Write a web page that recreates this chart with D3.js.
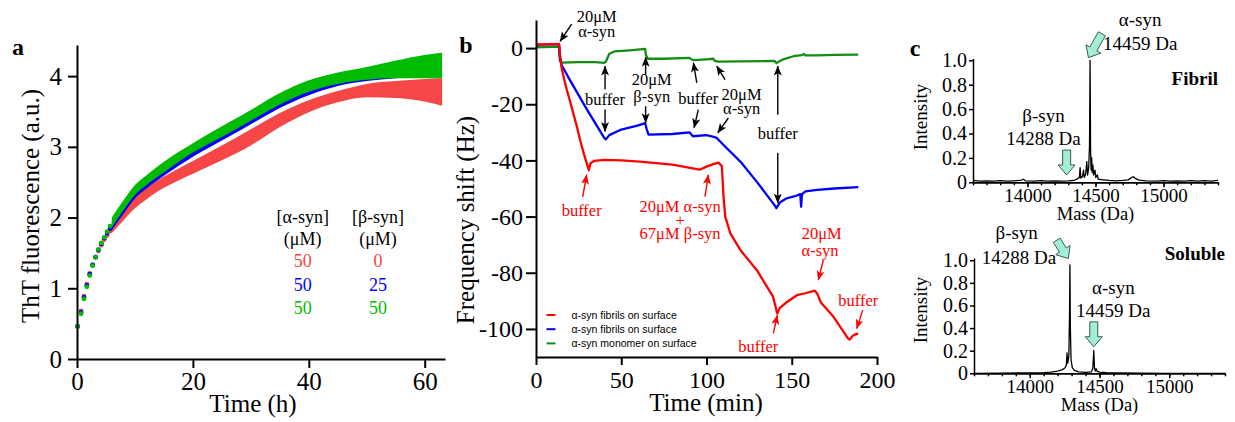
<!DOCTYPE html>
<html>
<head>
<meta charset="utf-8">
<script src="https://cdn.jsdelivr.net/npm/d3@7"></script>
<style>
  body { margin: 0; background: #fff; }
  svg { display: block; }
</style>
</head>
<body>
<div id="chart"></div>
<script>
// ---------- panel a : ThT fluorescence ----------
const earlyTime  = [0.1, 0.7, 1.2, 1.7, 2.2, 2.7, 3.2, 3.7, 4.2, 4.7, 5.2, 5.7];
const earlyRed   = [0.46, 0.68, 0.89, 1.06, 1.21, 1.33, 1.44, 1.53, 1.61, 1.69, 1.75, 1.81];
const earlyBlue  = [0.46, 0.66, 0.87, 1.04, 1.20, 1.33, 1.44, 1.54, 1.63, 1.71, 1.78, 1.84];
const earlyGreen = [0.46, 0.64, 0.85, 1.02, 1.18, 1.32, 1.44, 1.55, 1.64, 1.72, 1.80, 1.88];

const bandTime = [6, 8, 10, 12, 15, 20, 25, 30, 35, 40, 45, 50, 55, 60, 63];
const redLo   = [1.78, 1.96, 2.13, 2.26, 2.42, 2.62, 2.81, 3.02, 3.28, 3.49, 3.63, 3.70, 3.69, 3.64, 3.58];
const redHi   = [1.88, 2.08, 2.28, 2.42, 2.58, 2.80, 3.02, 3.25, 3.48, 3.66, 3.79, 3.89, 3.93, 3.96, 3.97];
const blueLo  = [1.82, 2.05, 2.27, 2.41, 2.59, 2.86, 3.09, 3.32, 3.55, 3.73, 3.86, 3.93, 3.97, 3.99, 4.00];
const blueHi  = [1.94, 2.17, 2.38, 2.52, 2.70, 2.96, 3.19, 3.42, 3.65, 3.83, 3.94, 4.01, 4.06, 4.12, 4.20];
const greenLo = [1.86, 2.10, 2.32, 2.46, 2.64, 2.92, 3.14, 3.37, 3.60, 3.78, 3.89, 3.95, 3.97, 3.97, 3.97];
const greenHi = [2.00, 2.24, 2.46, 2.60, 2.79, 3.05, 3.29, 3.52, 3.76, 3.94, 4.05, 4.13, 4.22, 4.30, 4.33];

const legendHead = [["[α-syn]", "[β-syn]"], ["(μM)", "(μM)"]];
const legendConc = [["50", "0"], ["50", "25"], ["50", "50"]];

// ---------- panel b : QCM frequency shift ----------
const redTimeB  = [0, 13.5, 14, 15, 16.5, 18, 20, 22, 24, 26, 28, 30, 31, 32, 34, 40, 50, 61, 80, 96, 100, 104, 107, 109, 110, 111, 114, 120, 130, 139, 141.5, 143, 147, 153, 158, 163.5, 165, 167, 174.5, 183, 184, 186, 189];
const redShiftB = [1.2, 1.5, -2, -7, -11, -14.7, -19, -23.5, -28, -33, -37.5, -41.5, -43.5, -41, -40.2, -39.8, -40, -40.4, -41.5, -43.3, -42.2, -41.3, -40.8, -42, -53, -60, -66, -72, -79.5, -88.5, -94.5, -92.5, -90.5, -88, -87.3, -86.4, -87.5, -90.5, -95.7, -103.4, -103.8, -102.3, -101.6];

const blueTimeB  = [0, 13.5, 14, 15, 20, 30, 40, 41, 43, 50, 60, 64, 65, 66, 80, 90, 92, 100, 103, 106, 110, 120, 130, 140, 141, 143, 147, 153, 155, 155.5, 156, 158, 165, 175, 189];
const blueShiftB = [1.2, 1.4, -3, -6, -11.5, -22, -32, -32.5, -31, -29, -27.5, -26.7, -29, -30.8, -30.6, -30, -31.4, -31, -31.4, -32, -34.5, -40.5, -48, -56, -57, -55, -53.5, -52.5, -52, -56.5, -52, -51, -50.5, -50, -49.5];

const greenTimeB  = [0, 13.5, 14, 15, 25, 35, 40, 41, 43, 46, 55, 64, 64.5, 65.5, 75, 90, 92, 100, 104, 105, 107, 120, 140, 141, 145, 151, 156, 157, 158, 165, 175, 189];
const greenShiftB = [0.3, 0.5, -4.5, -5.2, -5, -5, -5.3, -4.8, -2, -1.2, -0.8, -0.3, -2.5, -3.8, -3.8, -3.5, -4.3, -4, -3.8, -4.6, -4.8, -4.7, -4.6, -5.3, -4, -2.9, -2.5, -2.1, -2.6, -2.6, -2.4, -2.3];

const legendB = ["α-syn fibrils on surface", "α-syn fibrils on surface", "α-syn monomer on surface"];

// annotations: [time, shift, text] and arrows [t0, v0, t1, v1] (tail -> tip)
const blackLabels = [
  [35.6, 11.4, "20μM"], [35.6, 6.1, "α-syn"],
  [40.5, -18.3, "buffer"],
  [67.9, -11.2, "20μM"], [67.9, -17.1, "β-syn"],
  [95.2, -17.7, "buffer"],
  [120.6, -16.3, "20μM"], [120.6, -21.5, "α-syn"],
  [141.8, -30.2, "buffer"]
];
const blackArrows = [
  [20.9, 8.5, 14.1, 2.4],
  [40.5, -14.7, 40.5, -6.4], [40.5, -21.9, 40.5, -29.7],
  [64.3, -9.4, 64.3, -3.3], [64.3, -20.7, 64.3, -26.6],
  [94.3, -12.4, 92.3, -5.2], [95.2, -21.9, 92.7, -28.4],
  [110.9, -11.2, 106, -6.4], [112.8, -24.9, 106.6, -30.2],
  [141.8, -23.7, 141.8, -6.4], [141.8, -37.4, 141.8, -55.2]
];
const redLabels = [
  [26.8, -57.6, "buffer"],
  [84.5, -56.2, "20μM α-syn"], [84.5, -61.2, "+"], [84.5, -66.1, "67μM β-syn"],
  [167.6, -65.9, "20μM"], [166.6, -71.9, "α-syn"],
  [130.4, -106.2, "buffer"],
  [189, -89.7, "buffer"]
];
const redArrows = [
  [27.4, -53, 29.7, -45.1],
  [99.1, -52.9, 101.1, -45.1],
  [168.5, -75.5, 165.6, -82.6],
  [139.2, -101.6, 141.5, -95.1],
  [191.6, -93.3, 188.1, -99.9]
];

// ---------- panel c : mass spectra ----------
const fibrilMass = [13600, 13650, 13700, 13750, 13800, 13850, 13900, 13950, 13970, 13985, 14050, 14100, 14150, 14200, 14250, 14300, 14340, 14370, 14382, 14387, 14392, 14405, 14412, 14418, 14428, 14436, 14442, 14450, 14456, 14460, 14464, 14468, 14472, 14476, 14481, 14486, 14496, 14502, 14514, 14520, 14560, 14600, 14650, 14700, 14740, 14765, 14780, 14795, 14820, 14870, 14950, 15000, 15050, 15100, 15150, 15200, 15250, 15300, 15350, 15400];
const fibrilInt  = [0.015, 0.01, 0.012, 0.01, 0.013, 0.01, 0.012, 0.015, 0.025, 0.012, 0.01, 0.013, 0.01, 0.012, 0.01, 0.012, 0.015, 0.03, 0.04, 0.12, 0.035, 0.05, 0.1, 0.04, 0.07, 0.17, 0.06, 0.12, 0.3, 1.0, 0.25, 0.1, 0.2, 0.08, 0.14, 0.06, 0.1, 0.04, 0.06, 0.025, 0.02, 0.015, 0.012, 0.015, 0.02, 0.04, 0.045, 0.03, 0.018, 0.012, 0.01, 0.013, 0.01, 0.012, 0.01, 0.013, 0.01, 0.014, 0.01, 0.015];

const solubleMass = [13600, 13800, 14000, 14100, 14150, 14200, 14230, 14250, 14262, 14267, 14272, 14280, 14285, 14288, 14291, 14296, 14305, 14320, 14350, 14400, 14440, 14452, 14459, 14464, 14470, 14476, 14482, 14500, 14550, 14650, 14800, 15000, 15400];
const solubleInt  = [0, 0.002, 0.004, 0.006, 0.01, 0.02, 0.03, 0.045, 0.07, 0.18, 0.09, 0.15, 0.5, 0.96, 0.4, 0.12, 0.05, 0.025, 0.012, 0.008, 0.012, 0.04, 0.2, 0.05, 0.02, 0.04, 0.02, 0.01, 0.006, 0.004, 0.002, 0, 0];

// [mass, intensity, text]
const fibrilLabels  = [[14828, 1.34, "α-syn"], [14828, 1.137, "14459 Da"], [14118, 0.55, "β-syn"], [14118, 0.36, "14288 Da"]];
const solubleLabels = [[13906, 1.25, "β-syn"], [13923, 1.03, "14288 Da"], [14599, 0.764, "α-syn"], [14599, 0.559, "14459 Da"]];
// block arrows [mass0, int0, mass1, int1] (tail -> tip)
const fibrilArrows  = [[14547, 1.218, 14448, 1.022], [14288, 0.264, 14288, 0.06]];
const solubleArrows = [[14193, 1.177, 14276, 1.015], [14459, 0.455, 14459, 0.235]];

// ================= drawing =================
const W = 1235, H = 422;
const serif = '"Liberation Serif", "Times New Roman", serif';
const sans = '"Liberation Sans", Arial, sans-serif';

const svg = d3.select("#chart").append("svg")
    .attr("width", W)
    .attr("height", H)
    .attr("font-family", serif);

svg.append("rect").attr("width", W).attr("height", H).attr("fill", "#fff");

const defs = svg.append("defs");
[["arrowBlack", "#000"], ["arrowRed", "#f00"]].forEach(([id, c]) => {
    defs.append("marker")
        .attr("id", id)
        .attr("markerUnits", "userSpaceOnUse")
        .attr("viewBox", "0 0 10 8")
        .attr("refX", 9.5).attr("refY", 4)
        .attr("markerWidth", 10).attr("markerHeight", 8)
        .attr("orient", "auto")
        .append("path")
        .attr("d", "M0,0 L10,4 L0,8 L2.5,4 Z")
        .attr("fill", c);
});

function styleAxis(g, size, width) {
    g.attr("font-family", serif).attr("font-size", size);
    g.select(".domain").attr("stroke-width", width);
    g.selectAll(".tick line").attr("stroke-width", width);
    g.selectAll(".tick text").attr("fill", "#000");
}

function addText(g, x, y, s, size, opts = {}) {
    return g.append("text")
        .attr("x", x).attr("y", y)
        .attr("dy", "0.35em")
        .attr("text-anchor", opts.anchor || "middle")
        .attr("font-size", size)
        .attr("font-weight", opts.bold ? "bold" : null)
        .attr("fill", opts.color || "#000")
        .attr("transform", opts.rotate ? `rotate(-90,${x},${y})` : null)
        .text(s);
}

const intFmt = d3.format("d");

// ----- panel a -----
const xA = d3.scaleLinear().domain([0, 63.5]).range([77, 445]);
const yA = d3.scaleLinear().domain([0, 4.44]).range([359, 45]);
const gA = svg.append("g");

const seriesA = [
    { lo: redLo, hi: redHi, early: earlyRed, color: "#f64646" },
    { lo: blueLo, hi: blueHi, early: earlyBlue, color: "#0000ff" },
    { lo: greenLo, hi: greenHi, early: earlyGreen, color: "#00bb00" }
];

const band = d3.area()
    .x((d, i) => xA(bandTime[i]))
    .y0(d => yA(d[0]))
    .y1(d => yA(d[1]))
    .curve(d3.curveMonotoneX);

seriesA.forEach(s => {
    gA.append("path")
        .datum(d3.zip(s.lo, s.hi))
        .attr("d", band)
        .attr("fill", s.color);
    gA.append("g").selectAll("circle")
        .data(s.early)
        .join("circle")
        .attr("cx", (d, i) => xA(earlyTime[i]))
        .attr("cy", d => yA(d))
        .attr("r", 2.4)
        .attr("fill", s.color);
});

gA.append("g")
    .attr("transform", `translate(0,${yA(0)})`)
    .call(d3.axisBottom(xA).tickValues([0, 20, 40, 60]).tickFormat(intFmt).tickSize(9).tickSizeOuter(0).tickPadding(4))
    .call(styleAxis, 25, 2);
gA.append("g")
    .attr("transform", `translate(${xA(0)},0)`)
    .call(d3.axisLeft(yA).tickValues([0, 1, 2, 3, 4]).tickFormat(intFmt).tickSize(9).tickSizeOuter(0).tickPadding(6))
    .call(styleAxis, 25, 2);

addText(gA, 30, 206, "ThT fluorescence (a.u.)", 25, { rotate: true });
addText(gA, 253, 403, "Time (h)", 25);
addText(gA, 18, 47, "a", 24, { bold: true });

// concentration legend
const legColX = [302.7, 378];
const legRowY = [217, 239, 261, 285, 308];
legendHead.forEach((row, r) => row.forEach((s, c) => addText(gA, legColX[c], legRowY[r], s, 18)));
legendConc.forEach((row, r) => row.forEach((s, c) =>
    addText(gA, legColX[c], legRowY[r + 2], s, 18, { color: seriesA[r].color })));

// ----- panel b -----
const xB = d3.scaleLinear().domain([0, 200]).range([536, 877]);
const yB = d3.scaleLinear().domain([-110, 10]).range([357, 20]);
const gB = svg.append("g");

const lineB = d3.line().x(d => xB(d[0])).y(d => yB(d[1]));
const seriesB = [
    { t: greenTimeB, v: greenShiftB, color: "#138c13" },
    { t: blueTimeB, v: blueShiftB, color: "#0000ff" },
    { t: redTimeB, v: redShiftB, color: "#ff0000" }
];
seriesB.forEach(s => {
    gB.append("path")
        .datum(d3.zip(s.t, s.v))
        .attr("d", lineB)
        .attr("fill", "none")
        .attr("stroke", s.color)
        .attr("stroke-width", 2.3)
        .attr("stroke-linejoin", "round");
});

gB.append("g")
    .attr("transform", `translate(0,${yB(-110)})`)
    .call(d3.axisBottom(xB).tickValues([0, 50, 100, 150, 200]).tickFormat(intFmt).tickSize(8).tickSizeOuter(0).tickPadding(6))
    .call(styleAxis, 24, 2);
gB.append("g")
    .attr("transform", `translate(${xB(0)},0)`)
    .call(d3.axisLeft(yB).tickValues([0, -20, -40, -60, -80, -100]).tickSize(10).tickSizeOuter(0).tickPadding(3)
        .tickFormat(d => String(d)))
    .call(styleAxis, 24, 2);

addText(gB, 465, 220, "Frequency shift (Hz)", 25, { rotate: true });
addText(gB, 706, 402, "Time (min)", 25);
addText(gB, 466, 45, "b", 24, { bold: true });

blackLabels.forEach(([t, v, s]) => addText(gB, xB(t), yB(v), s, 16.5));
redLabels.forEach(([t, v, s]) => addText(gB, xB(t), yB(v), s, 16.5, { color: "#f00" }));
blackArrows.forEach(([t0, v0, t1, v1]) => {
    gB.append("line")
        .attr("x1", xB(t0)).attr("y1", yB(v0)).attr("x2", xB(t1)).attr("y2", yB(v1))
        .attr("stroke", "#000").attr("stroke-width", 1.4)
        .attr("marker-end", "url(#arrowBlack)");
});
redArrows.forEach(([t0, v0, t1, v1]) => {
    gB.append("line")
        .attr("x1", xB(t0)).attr("y1", yB(v0)).attr("x2", xB(t1)).attr("y2", yB(v1))
        .attr("stroke", "#f00").attr("stroke-width", 1.4)
        .attr("marker-end", "url(#arrowRed)");
});

// legend (red, blue, green from top)
const legB = gB.append("g").attr("font-family", sans).attr("font-size", 10.5);
[seriesB[2], seriesB[1], seriesB[0]].forEach((s, i) => {
    const y = 315 + i * 14.2;
    legB.append("line").attr("x1", 546.5).attr("x2", 555.5).attr("y1", y).attr("y2", y)
        .attr("stroke", s.color).attr("stroke-width", 2);
    legB.append("text").attr("x", 571.5).attr("y", y).attr("dy", "0.35em").text(legendB[i]);
});

// ----- panel c -----
function blockArrow(g, x0, y0, x1, y1) {
    const dx = x1 - x0, dy = y1 - y0, len = Math.hypot(dx, dy);
    const ux = dx / len, uy = dy / len, px = -uy, py = ux;
    const hl = 10, sw = 4, hw = 8.5;
    const bx = x1 - ux * hl, by = y1 - uy * hl;
    const pts = [
        [x0 + px * sw, y0 + py * sw], [bx + px * sw, by + py * sw], [bx + px * hw, by + py * hw],
        [x1, y1],
        [bx - px * hw, by - py * hw], [bx - px * sw, by - py * sw], [x0 - px * sw, y0 - py * sw]
    ];
    g.append("polygon")
        .attr("points", pts.map(p => p.join(",")).join(" "))
        .attr("fill", "#a4edd8")
        .attr("stroke", "#2a4a40")
        .attr("stroke-width", 0.9);
}

function spectrum(mass, inten, xRange, yRange, yTop, labels, arrows, title, titleY, yTitleY, xTitleY) {
    const x = d3.scaleLinear().domain([13600, 15400]).range(xRange);
    const y = d3.scaleLinear().domain([0, yTop]).range(yRange);
    const g = svg.append("g");

    g.append("path")
        .datum(d3.zip(mass, inten))
        .attr("d", d3.line().x(d => x(d[0])).y(d => y(d[1])))
        .attr("fill", "none")
        .attr("stroke", "#000")
        .attr("stroke-width", 1.3)
        .attr("stroke-linejoin", "round");

    g.append("g")
        .attr("transform", `translate(0,${y(0)})`)
        .call(d3.axisBottom(x).tickValues(d3.range(13600, 15401, 100)).tickSize(3).tickSizeOuter(0).tickFormat(""))
        .call(styleAxis, 19, 1.5);
    g.append("g")
        .attr("transform", `translate(0,${y(0)})`)
        .call(d3.axisBottom(x).tickValues([14000, 14500, 15000]).tickFormat(intFmt).tickSize(5).tickSizeOuter(0).tickPadding(1))
        .call(styleAxis, 19, 1.5);
    g.append("g")
        .attr("transform", `translate(${x(13600)},0)`)
        .call(d3.axisLeft(y).tickValues([0, 0.2, 0.4, 0.6, 0.8, 1.0]).tickSize(4).tickSizeOuter(0).tickPadding(2)
            .tickFormat(d => d === 0 ? "0" : d3.format(".1f")(d)))
        .call(styleAxis, 20, 1.5);

    labels.forEach(([m, v, s]) => addText(g, x(m), y(v), s, 19));
    arrows.forEach(([m0, v0, m1, v1]) => blockArrow(g, x(m0), y(v0), x(m1), y(v1)));
    addText(g, xRange[1], titleY, title, 19, { bold: true, anchor: "end" });
    addText(g, 920, yTitleY, "Intensity", 19, { rotate: true });
    addText(g, (xRange[0] + xRange[1]) / 2, xTitleY, "Mass (Da)", 18.5);
}

spectrum(fibrilMass, fibrilInt, [973, 1218], [182.3, 58.5], 1.015, fibrilLabels, fibrilArrows, "Fibril", 78, 117, 214);
spectrum(solubleMass, solubleInt, [974, 1225], [373.3, 258], 1.02, solubleLabels, solubleArrows, "Soluble", 253, 310, 405);
addText(svg, 915, 48, "c", 24, { bold: true });
</script>
</body>
</html>
